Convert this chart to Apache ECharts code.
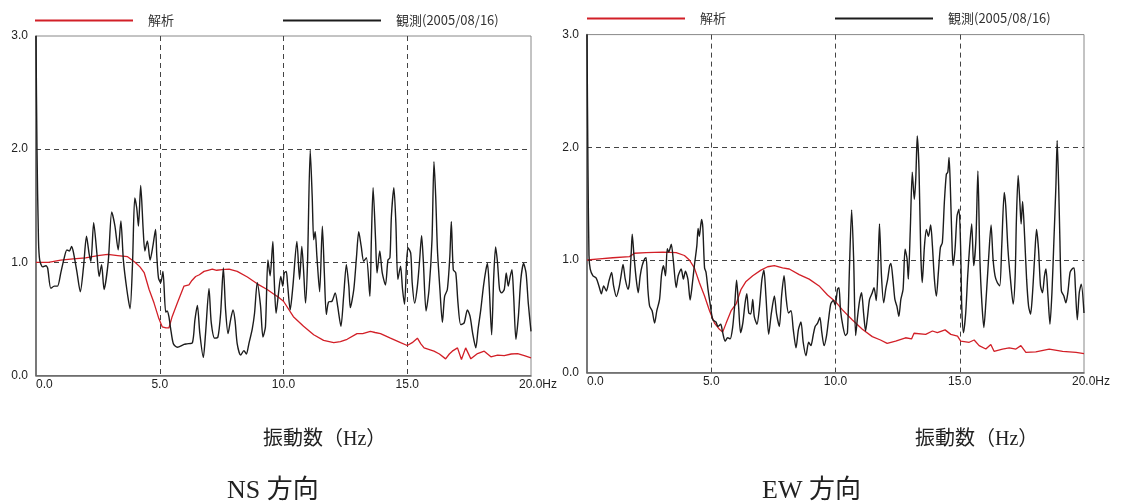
<!DOCTYPE html>
<html><head><meta charset="utf-8">
<script src="https://cdn.jsdelivr.net/npm/echarts@6/dist/echarts.min.js"></script>
<style>html,body{margin:0;padding:0;background:#fff}#c{width:1126px;height:504px}</style>
</head><body><div id="c"></div>
<script>
// ---- data ----
const seriesNames = ['解析', '観測(2005/08/16)'];
const xTicks = [0, 5, 10, 15, 20];
const yTicks = [0, 1, 2, 3];
const panelTitles = ['NS 方向', 'EW 方向'];
const xAxisTitle = '振動数（Hz）';

const nsObsHz = [0,0.04,0.1,0.15,0.27,0.4,0.47,0.6,0.74,0.87,1.0,1.14,1.25,1.35,1.44,1.52,1.65,1.79,1.92,2.04,2.15,2.22,2.33,2.46,2.55,2.65,2.75,2.92,3.06,3.19,3.32,3.43,3.53,3.67,3.80,3.90,3.99,4.07,4.14,4.23,4.33,4.40,4.50,4.61,4.72,4.83,4.88,4.95,5.04,5.13,5.24,5.30,5.37,5.44,5.55,5.71,5.98,6.10,6.32,6.42,6.52,6.62,6.76,6.85,6.99,7.08,7.22,7.35,7.46,7.57,7.66,7.76,7.86,7.96,8.04,8.13,8.27,8.40,8.50,8.60,8.74,8.83,8.94,9.07,9.17,9.27,9.37,9.46,9.57,9.62,9.70,9.80,9.89,9.97,10.03,10.11,10.16,10.27,10.38,10.54,10.65,10.74,10.81,10.89,10.97,11.08,11.16,11.22,11.28,11.35,11.46,11.57,11.65,11.73,11.82,11.96,12.09,12.19,12.32,12.43,12.54,12.64,12.70,12.84,12.95,13.04,13.14,13.24,13.35,13.49,13.55,13.62,13.72,13.78,13.89,13.99,14.12,14.22,14.30,14.36,14.46,14.54,14.62,14.73,14.81,14.89,14.97,15.03,15.14,15.20,15.30,15.41,15.50,15.58,15.65,15.76,15.88,16.00,16.08,16.15,16.22,16.32,16.42,16.51,16.62,16.72,16.78,16.86,16.96,17.05,17.16,17.30,17.43,17.54,17.64,17.77,17.86,17.97,18.08,18.18,18.24,18.31,18.41,18.49,18.57,18.65,18.73,18.81,18.92,19.00,19.08,19.16,19.23,19.30,19.39,19.49,19.59,19.70,19.80,19.89,20.00];
const nsObsVal = [3.0,2.0,1.2,1.02,0.96,0.97,0.95,0.77,0.79,0.79,0.905,1.04,1.11,1.10,1.14,1.08,0.92,0.74,0.96,1.23,1.07,1.01,1.35,1.08,0.875,0.98,0.76,1.01,1.445,1.32,1.11,1.365,1.02,0.76,0.59,0.99,1.57,1.48,1.32,1.68,1.29,1.10,1.19,1.02,1.14,1.29,1.06,0.86,0.82,0.92,0.56,0.57,0.52,0.415,0.28,0.25,0.275,0.28,0.29,0.49,0.62,0.37,0.16,0.37,0.77,0.47,0.33,0.34,0.55,0.95,0.58,0.37,0.49,0.58,0.49,0.28,0.18,0.22,0.19,0.28,0.415,0.55,0.82,0.62,0.34,0.43,1.02,0.88,1.185,0.876,0.55,0.73,0.876,0.79,0.906,0.92,0.82,0.58,0.79,1.185,0.85,1.14,0.935,0.64,0.99,1.99,1.58,1.2,1.27,1.05,0.74,1.32,0.906,0.54,0.65,0.656,0.73,0.61,0.435,0.70,0.98,0.79,0.60,0.76,1.05,1.27,1.14,1.01,1.04,0.70,1.2,1.66,1.2,0.906,1.10,0.906,0.80,1.02,1.04,1.41,1.66,1.35,0.85,0.965,0.76,0.63,0.99,1.13,1.08,0.82,0.64,0.79,1.02,1.235,1.01,0.57,0.76,1.2,1.89,1.58,1.11,0.76,0.47,0.70,0.76,1.05,1.36,0.935,0.906,0.64,0.45,0.465,0.58,0.52,0.376,0.244,0.406,0.58,0.79,0.935,0.99,0.79,0.36,0.85,1.135,0.99,0.76,0.73,0.76,0.906,0.79,0.876,0.935,0.70,0.32,0.52,0.85,0.99,0.906,0.64,0.39];

const nsCalcHz = [0,0.5,1.0,1.5,2.0,2.5,2.9,3.3,3.7,4.0,4.2,4.37,4.57,4.77,4.96,5.1,5.25,5.37,5.5,5.71,5.98,6.18,6.3,6.45,6.6,6.79,6.95,7.12,7.3,7.52,7.8,8.13,8.54,8.94,9.34,9.6,9.81,10.0,10.4,10.81,11.22,11.62,12.03,12.3,12.57,12.97,13.2,13.51,13.7,13.92,14.32,14.73,15.0,15.2,15.41,15.55,15.68,16.08,16.3,16.55,16.7,16.82,17.03,17.19,17.36,17.57,17.84,18.11,18.38,18.65,18.92,19.2,19.46,19.73,20.0];
const nsCalcVal = [1.0,1.0,1.02,1.03,1.04,1.06,1.07,1.06,1.05,1.0,0.96,0.91,0.76,0.64,0.505,0.43,0.42,0.42,0.52,0.64,0.79,0.80,0.84,0.875,0.89,0.92,0.93,0.94,0.93,0.935,0.94,0.92,0.87,0.81,0.76,0.72,0.69,0.656,0.52,0.435,0.36,0.31,0.29,0.30,0.32,0.37,0.37,0.39,0.38,0.37,0.33,0.29,0.265,0.29,0.33,0.28,0.244,0.215,0.19,0.147,0.19,0.215,0.244,0.141,0.244,0.147,0.194,0.215,0.165,0.18,0.176,0.19,0.194,0.176,0.156];

const ewObsHz = [0,0.04,0.08,0.13,0.24,0.37,0.48,0.58,0.67,0.78,0.88,0.99,1.07,1.18,1.29,1.37,1.45,1.54,1.65,1.71,1.78,1.82,1.89,1.98,2.06,2.14,2.22,2.32,2.38,2.45,2.52,2.62,2.72,2.81,2.92,3.0,3.08,3.16,3.23,3.29,3.39,3.48,3.59,3.67,3.79,3.88,3.96,4.06,4.15,4.23,4.32,4.42,4.47,4.52,4.61,4.66,4.73,4.79,4.87,4.95,5.06,5.19,5.27,5.38,5.46,5.56,5.66,5.76,5.86,5.94,6.02,6.10,6.18,6.27,6.36,6.43,6.51,6.59,6.67,6.73,6.84,6.93,7.04,7.12,7.20,7.31,7.42,7.54,7.63,7.74,7.83,7.93,8.01,8.11,8.21,8.30,8.41,8.51,8.61,8.70,8.81,8.92,9.01,9.10,9.18,9.28,9.37,9.45,9.54,9.64,9.72,9.81,9.91,9.99,10.08,10.14,10.20,10.30,10.40,10.48,10.56,10.65,10.73,10.81,10.89,10.97,11.05,11.13,11.21,11.29,11.37,11.48,11.55,11.64,11.72,11.77,11.85,11.94,12.02,12.10,12.18,12.23,12.31,12.39,12.47,12.55,12.63,12.72,12.80,12.88,12.93,13.01,13.09,13.17,13.23,13.29,13.36,13.43,13.49,13.58,13.66,13.74,13.83,13.90,13.98,14.06,14.14,14.22,14.30,14.38,14.46,14.52,14.57,14.62,14.68,14.73,14.81,14.89,14.97,15.04,15.08,15.15,15.24,15.32,15.40,15.48,15.56,15.65,15.73,15.81,15.89,15.97,16.05,16.16,16.26,16.34,16.42,16.51,16.61,16.69,16.79,16.85,16.94,17.04,17.15,17.23,17.28,17.35,17.42,17.47,17.53,17.61,17.69,17.77,17.85,17.93,18.01,18.09,18.17,18.25,18.33,18.41,18.47,18.55,18.63,18.71,18.79,18.87,18.92,18.98,19.03,19.09,19.19,19.27,19.35,19.44,19.52,19.60,19.65,19.73,19.81,19.89,20.00];
const ewObsVal = [3.0,1.8,1.04,0.92,0.86,0.84,0.77,0.70,0.77,0.725,0.81,0.89,0.77,0.675,0.755,0.86,0.96,0.83,0.74,0.80,1.07,1.23,1.04,0.83,0.71,0.86,0.95,1.01,1.02,0.74,0.59,0.55,0.44,0.55,0.65,0.87,0.95,0.86,1.10,1.07,1.14,0.98,0.755,0.86,0.92,0.83,0.90,0.83,0.645,0.77,0.95,1.125,1.28,1.21,1.36,1.29,0.93,0.89,0.74,0.62,0.47,0.45,0.41,0.43,0.355,0.28,0.31,0.30,0.40,0.59,0.82,0.59,0.355,0.44,0.615,0.70,0.53,0.52,0.65,0.50,0.43,0.56,0.83,0.91,0.68,0.34,0.53,0.68,0.52,0.41,0.68,0.86,0.67,0.53,0.55,0.385,0.22,0.385,0.45,0.27,0.15,0.27,0.24,0.33,0.41,0.44,0.49,0.355,0.24,0.33,0.47,0.61,0.64,0.60,0.74,0.755,0.56,0.41,0.33,0.355,0.92,1.445,1.01,0.33,0.50,0.64,0.71,0.53,0.37,0.50,0.65,0.71,0.755,0.64,1.01,1.32,0.86,0.62,0.74,0.83,0.95,0.97,0.83,0.65,0.59,0.50,0.65,0.74,1.095,1.01,0.83,1.27,1.78,1.54,1.72,2.10,1.81,1.07,0.80,1.125,1.27,1.21,1.31,1.125,0.83,0.68,0.89,1.11,1.155,1.51,1.76,1.78,1.91,1.66,1.21,0.95,1.095,1.39,1.45,1.066,0.59,0.355,0.53,0.86,1.125,1.32,0.95,1.18,1.79,1.01,0.62,0.40,0.62,1.01,1.31,1.01,0.86,0.80,0.77,1.125,1.60,1.48,1.095,0.83,0.61,0.86,1.36,1.75,1.51,1.32,1.52,1.21,0.83,0.59,0.52,0.71,1.01,1.27,1.095,0.77,0.71,0.86,0.92,0.68,0.43,0.71,1.18,1.66,2.06,1.66,1.18,0.725,0.68,0.62,0.71,0.89,0.92,0.93,0.77,0.47,0.71,0.785,0.53];

const ewCalcHz = [0,0.5,1.04,1.71,1.91,2.38,3.05,3.59,3.92,4.12,4.32,4.52,4.73,4.93,5.13,5.33,5.46,5.6,5.8,6.0,6.2,6.4,6.67,7.0,7.27,7.54,7.87,8.14,8.54,8.94,9.34,9.68,10.0,10.27,10.67,11.08,11.48,11.81,12.08,12.42,12.82,13.06,13.16,13.63,13.9,14.1,14.41,14.64,14.91,15.04,15.38,15.58,15.78,16.05,16.25,16.38,16.72,16.99,17.26,17.46,17.66,18.06,18.6,19.14,19.68,20.0];
const ewCalcVal = [1.0,1.01,1.02,1.03,1.06,1.065,1.07,1.065,1.04,1.0,0.93,0.80,0.68,0.55,0.44,0.385,0.36,0.44,0.55,0.61,0.74,0.81,0.86,0.91,0.94,0.95,0.93,0.92,0.87,0.83,0.77,0.69,0.63,0.56,0.47,0.385,0.32,0.29,0.26,0.28,0.31,0.30,0.35,0.34,0.37,0.355,0.38,0.34,0.325,0.28,0.27,0.29,0.24,0.21,0.25,0.19,0.21,0.22,0.21,0.24,0.18,0.185,0.21,0.19,0.18,0.17];

// ---- build ----
const zip = (a, b) => a.map((x, i) => [x, b[i]]);
const RED = '#d21f27', BLACK = '#1c1c1c';
const grids = [
  {left: 36, right: 595, top: 36, bottom: 128.5},
  {left: 587, right: 42, top: 34.6, bottom: 131.3}
];
const labelFont = "'Liberation Sans', Arial, sans-serif";
const cjkFont = "'Noto Sans CJK JP', sans-serif";
const serifFont = "'Liberation Serif', 'Noto Sans CJK JP', serif";

function xAxis(i) {
  return {
    type: 'value', gridIndex: i, min: xTicks[0], max: xTicks[xTicks.length - 1], interval: 5,
    axisLine: {show: true, onZero: false, lineStyle: {color: '#666', width: 1.6}},
    axisTick: {show: false},
    splitLine: {show: true, showMinLine: false, showMaxLine: false, lineStyle: {color: '#444', type: [5, 4], width: 1}},
    axisLabel: {
      color: '#222', fontSize: 12, fontFamily: labelFont, margin: 3, alignMinLabel: 'left',
      formatter: v => v === 20 ? '{a|20.0}{b|Hz}' : v.toFixed(1),
      rich: {a: {fontSize: 12, fontFamily: labelFont, color: '#222', padding: [0, 0, 0, 14]},
             b: {fontSize: 12, fontFamily: labelFont, color: '#222'}}
    }
  };
}
function yAxis(i) {
  return {
    type: 'value', gridIndex: i, min: yTicks[0], max: yTicks[yTicks.length - 1], interval: 1,
    axisLine: {show: true, onZero: false, lineStyle: {color: '#666', width: 1.6}},
    axisTick: {show: false},
    splitLine: {show: true, showMinLine: false, showMaxLine: false, lineStyle: {color: '#444', type: [5, 4], width: 1}},
    axisLabel: {color: '#222', fontSize: 12, fontFamily: labelFont, margin: 8, formatter: v => v.toFixed(1)}
  };
}
function legend(name, left, top) {
  return {
    data: [name], left: left, top: top, icon: 'rect', itemWidth: 98, itemHeight: 2,
    selectedMode: false, padding: 0,
    textStyle: {color: '#333', fontSize: 13, fontFamily: cjkFont, padding: [0, 0, 0, 10]}
  };
}
function line(name, data, color, idx, width, smooth) {
  return {
    name: name, type: 'line', xAxisIndex: idx, yAxisIndex: idx, data: data,
    showSymbol: false, symbol: 'none', smooth: smooth, color: color,
    lineStyle: {color: color, width: width}, animation: false, clip: true
  };
}

const chart = echarts.init(document.getElementById('c'), null, {renderer: 'canvas'});
chart.setOption({
  backgroundColor: '#fff',
  animation: false,
  grid: grids.map(g => Object.assign({show: true, borderColor: '#888', borderWidth: 1, containLabel: false}, g)),
  xAxis: [xAxis(0), xAxis(1)],
  yAxis: [yAxis(0), yAxis(1)],
  legend: [
    legend(seriesNames[0], 35, 14), legend(seriesNames[1], 283, 14),
    legend(seriesNames[0], 587, 12), legend(seriesNames[1], 835, 12)
  ],
  title: [
    {text: xAxisTitle, left: 258, top: 425, textStyle: {fontSize: 20, fontWeight: 'normal', color: '#222', fontFamily: serifFont}},
    {text: panelTitles[0], left: 222, top: 473, textStyle: {fontSize: 26, fontWeight: 'normal', color: '#222', fontFamily: serifFont}},
    {text: xAxisTitle, left: 910, top: 425, textStyle: {fontSize: 20, fontWeight: 'normal', color: '#222', fontFamily: serifFont}},
    {text: panelTitles[1], left: 757, top: 473, textStyle: {fontSize: 26, fontWeight: 'normal', color: '#222', fontFamily: serifFont}}
  ],
  series: [
    line(seriesNames[0], zip(nsCalcHz, nsCalcVal), RED, 0, 1.3, false),
    line(seriesNames[1], zip(nsObsHz, nsObsVal), BLACK, 0, 1.4, 0.25),
    line(seriesNames[0], zip(ewCalcHz, ewCalcVal), RED, 1, 1.3, false),
    line(seriesNames[1], zip(ewObsHz, ewObsVal), BLACK, 1, 1.4, 0.25)
  ]
});
</script></body></html>
